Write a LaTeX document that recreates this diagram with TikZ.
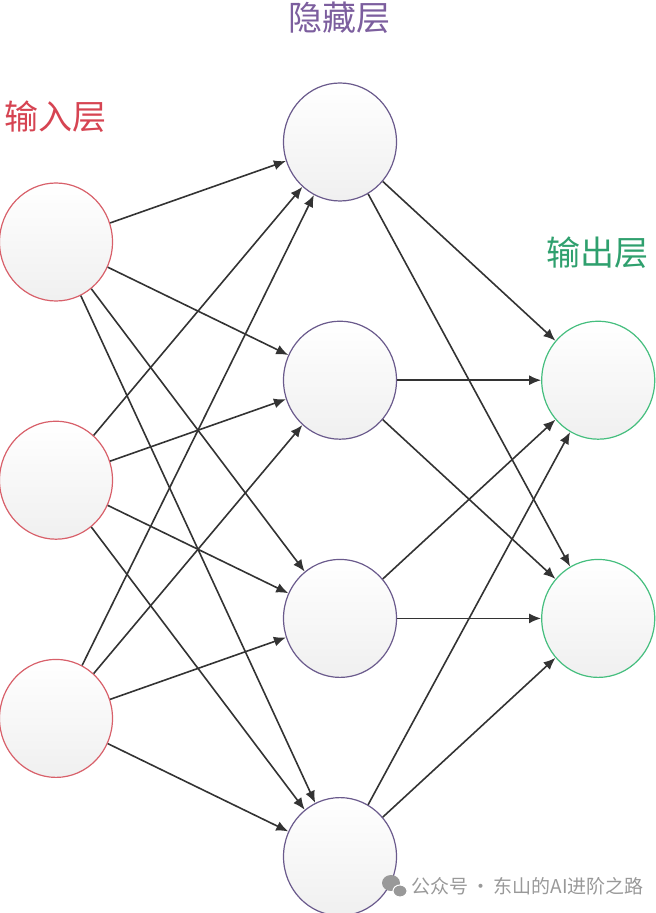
\documentclass[tikz,border=0pt]{standalone}
\usepackage{fontspec}
\newfontfamily\cjk{Noto Sans CJK SC}
\usetikzlibrary{arrows.meta, positioning, shapes.geometric}

\definecolor{inred}{HTML}{D8606A}
\definecolor{inredtxt}{HTML}{D64452}
\definecolor{hidpurple}{HTML}{6A5A8C}
\definecolor{hidtxt}{HTML}{7C5E9E}
\definecolor{outgreen}{HTML}{45BE7E}
\definecolor{outtxt}{HTML}{2FA06E}

\begin{document}
\begin{tikzpicture}[
x=0.5pt, y=-0.5pt,
node distance=59.5pt,
neuron/.style={draw, ellipse, minimum width=56.5pt, minimum height=59pt, inner sep=0pt, line width=0.6pt, top color=white, bottom color=black!6},
layername/.style={font=\cjk\fontsize{17}{17}\selectfont, inner sep=0pt},
wmark/.style={font=\cjk\fontsize{9.5}{9.5}\selectfont, text=black!40, inner sep=0pt},
arrow/.style={-{Latex[length=6pt, width=5pt]}, line width=0.8pt, draw=black!80}
]
\useasboundingbox (0,0) rectangle (656,913);

% Hidden layer
\node[neuron, draw=hidpurple] (h1) at (340,142) {};
\node[neuron, draw=hidpurple, below=of h1] (h2) {};
\node[neuron, draw=hidpurple, below=of h2] (h3) {};
\node[neuron, draw=hidpurple, below=of h3] (h4) {};

% Input layer
\node[neuron, draw=inred] (in1) at (56,242) {};
\node[neuron, draw=inred, below=of in1] (in2) {};
\node[neuron, draw=inred, below=of in2] (in3) {};

% Output layer
\node[neuron, draw=outgreen, right=72pt of h2] (o1) {};
\node[neuron, draw=outgreen, right=72pt of h3] (o2) {};

% Layer names
\node[layername, text=hidtxt] (lblhid) at (339,18) {隐藏层};
\node[layername, text=inredtxt] (lblin) at (55,117) {输入层};
\node[layername, text=outtxt] (lblout) at (597,253) {输出层};

% Input -> hidden
\draw[arrow] (in1) -- (h1);
\draw[arrow] (in1) -- (h2);
\draw[arrow] (in1) -- (h3);
\draw[arrow] (in1) -- (h4);
\draw[arrow] (in2) -- (h1);
\draw[arrow] (in2) -- (h2);
\draw[arrow] (in2) -- (h3);
\draw[arrow] (in2) -- (h4);
\draw[arrow] (in3) -- (h1);
\draw[arrow] (in3) -- (h2);
\draw[arrow] (in3) -- (h3);
\draw[arrow] (in3) -- (h4);

% Hidden -> output
\draw[arrow] (h1) -- (o1);
\draw[arrow] (h1) -- (o2);
\draw[arrow] (h2) -- (o1);
\draw[arrow] (h2) -- (o2);
\draw[arrow] (h3) -- (o1);
\draw[arrow] (h3) -- (o2);
\draw[arrow] (h4) -- (o1);
\draw[arrow] (h4) -- (o2);

% Watermark
\fill[black!40] (391,883) ellipse (9 and 8);
\fill[black!40, draw=white, line width=0.5pt] (400,891) ellipse (7 and 6);
\node[wmark, anchor=west] (wm) at (411,886) {公众号\,·\,东山的AI进阶之路};

\end{tikzpicture}
\end{document}
